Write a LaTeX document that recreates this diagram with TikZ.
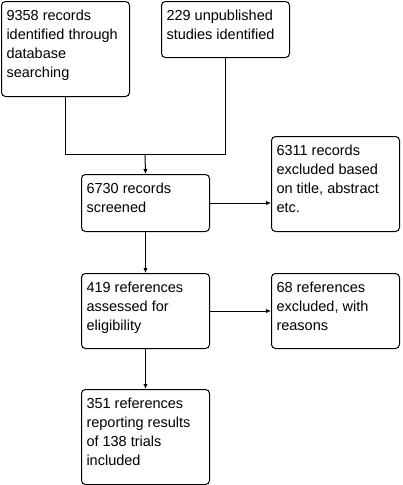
\documentclass[tikz,border=0pt]{standalone}
\usepackage{fontspec}
\setmainfont{Liberation Sans}
\usetikzlibrary{arrows.meta}
\newcommand{\bxt}[2]{\begin{minipage}[c][#1][t]{118pt}\raggedright\fontsize{14.5pt}{19pt}\selectfont\rule{0pt}{18.5pt}#2\end{minipage}}
\tikzset{
  fbox/.style={draw=black, line width=1pt, rounded corners=4pt, inner xsep=5pt, inner ysep=0pt, anchor=north west, fill=white},
  conn/.style={draw=black, line width=1pt},
  arr/.style={conn, -{Latex[length=5pt,width=4.5pt]}}
}
\begin{document}
\begin{tikzpicture}[x=1pt,y=-1pt]
\useasboundingbox (0,0) rectangle (402,485);
\node[fbox] (a) at (1,1) {\bxt{95pt}{9358 records\\identified through\\database\\searching}};
\node[fbox] (b) at (161,1) {\bxt{56pt}{229 unpublished\\studies identified}};
\node[fbox] (c) at (81,174) {\bxt{57pt}{6730 records\\screened}};
\node[fbox] (d) at (271,136) {\bxt{95pt}{6311 records\\excluded based\\on title, abstract\\etc.}};
\node[fbox] (e) at (81,273) {\bxt{75pt}{419 references\\assessed for\\eligibility}};
\node[fbox] (f) at (271,273) {\bxt{75pt}{68 references\\excluded, with\\reasons}};
\node[fbox] (g) at (81,389) {\bxt{95pt}{351 references\\reporting results\\of 138 trials\\included}};
\coordinate (m) at (145,154);
\draw[conn] (a.south) |- (m);
\draw[conn] (b.south) |- (m);
\draw[arr] (m) -- (c.north);
\draw[arr] (c.east) -- (c.east -| d.west);
\draw[arr] (c.south) -- (e.north);
\draw[arr] (e.east) -- (f.west);
\draw[arr] (e.south) -- (g.north);
\end{tikzpicture}
\end{document}
